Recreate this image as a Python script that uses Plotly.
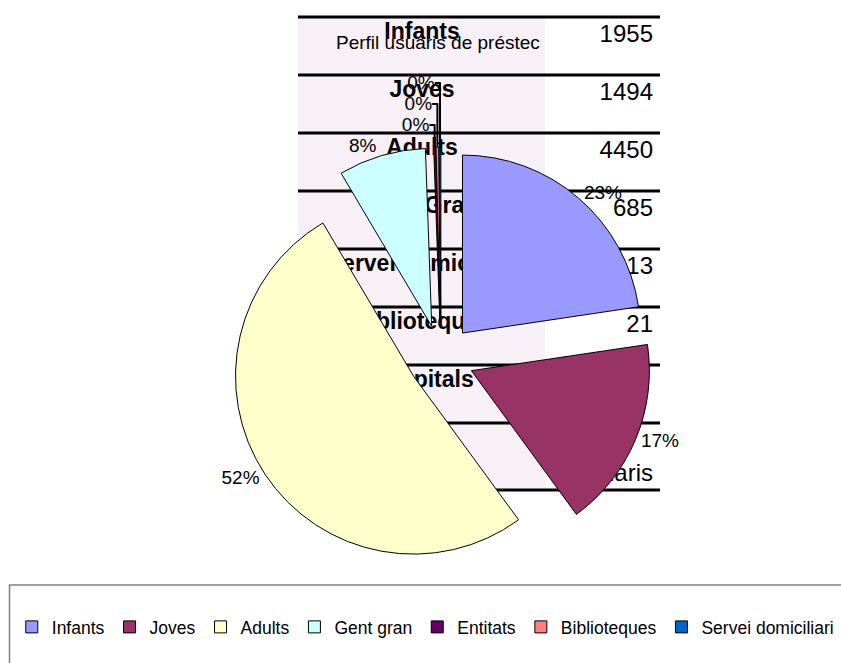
import plotly.graph_objects as go

# ---- data ----
slice_labels = ["Infants", "Joves", "Adults", "Gent gran", "Entitats", "Biblioteques", "Servei domiciliari"]
slice_values = [1955, 1494, 4450, 685, 15, 21, 13]
slice_colors = ["#9999FF", "#993366", "#FFFFCC", "#CCFFFF", "#660066", "#FF8080", "#0066CC"]

table_labels = ["Infants", "Joves", "Adults", "Gent Gran", "Servei domiciliari", "Biblioteques", "Hospitals", ""]
table_values = ["1955", "1494", "4450", "685", "13", "21", "", "usuaris"]

title_text = "Perfil usuaris de préstec"

# ---- layout constants (pixels) ----
W, H = 841, 663
FONT = "Liberation Sans, Arial, sans-serif"
row_top0, row_h = 17, 58
table_bottom = 490
tx0, tx1, tshade = 298, 660, 545

n_rows = len(table_labels)
row_tops = [row_top0 + row_h * i for i in range(n_rows)]
line_ys = row_tops + [table_bottom]

# pie geometry
cx, cy, r, pull = 441, 358, 178, 0.185
half = r * (1 + pull)

fig = go.Figure()

shapes = []
shapes.append(dict(type="rect", xref="x", yref="y", x0=tx0, x1=tshade, y0=row_top0, y1=table_bottom,
                   fillcolor="#F7F0F7", line=dict(width=0), layer="below"))
for y in line_ys:
    shapes.append(dict(type="line", xref="x", yref="y", x0=tx0, x1=tx1, y0=y, y1=y,
                       line=dict(color="black", width=3), layer="below"))
# legend frame
shapes.append(dict(type="rect", xref="x", yref="y", x0=9.5, x1=W + 10, y0=585, y1=H + 10,
                   fillcolor="rgba(0,0,0,0)", line=dict(color="#7f7f7f", width=1.5), layer="below"))

label_y = [t + 16 for t in row_tops]
value_y = [t + 19 for t in row_tops]
value_y[-1] = table_bottom - 15

fig.add_trace(go.Scatter(
    x=[422] * n_rows, y=label_y, mode="text", text=table_labels,
    textposition="middle center", textfont=dict(family=FONT, size=23, color="black", weight="bold"),
    showlegend=False, hoverinfo="skip"))
fig.add_trace(go.Scatter(
    x=[653] * n_rows, y=value_y, mode="text", text=table_values,
    textposition="middle left", textfont=dict(family=FONT, size=24, color="black"),
    showlegend=False, hoverinfo="skip"))

fig.add_trace(go.Pie(
    labels=slice_labels, values=slice_values, sort=False, direction="clockwise", rotation=0,
    pull=[pull] * len(slice_values),
    marker=dict(colors=slice_colors, line=dict(color="black", width=1)),
    texttemplate="%{percent:.0%}", textposition="outside",
    textfont=dict(family=FONT, size=19, color="black"),
    domain=dict(x=[(cx - half) / W, (cx + half) / W], y=[(H - cy - half) / H, (H - cy + half) / H]),
    hoverinfo="label+value+percent",
))

fig.add_annotation(x=438, y=42, xref="x", yref="y", text=title_text, showarrow=False,
                   font=dict(family=FONT, size=19, color="black"))

fig.update_layout(
    width=W, height=H, margin=dict(l=0, r=0, t=0, b=0),
    paper_bgcolor="white", plot_bgcolor="white",
    xaxis=dict(range=[0, W], visible=False, fixedrange=True),
    yaxis=dict(range=[H, 0], visible=False, fixedrange=True),
    shapes=shapes,
    showlegend=True,
    legend=dict(orientation="h", x=0.014, xanchor="left", y=(H - 627) / H, yanchor="middle",
                font=dict(family=FONT, size=17.5, color="black"), bgcolor="rgba(0,0,0,0)",
                traceorder="normal"),
)

fig.write_html("out.html", config={"displayModeBar": False},
               post_script="document.body.style.margin='0px';document.body.style.overflow='hidden';")
